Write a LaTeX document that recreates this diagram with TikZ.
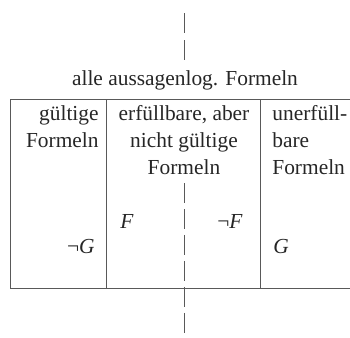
\documentclass[tikz,border=0pt]{standalone}
\usepackage{fontspec}
\setmainfont{Liberation Serif}
\usepackage{tikz}
\usetikzlibrary{positioning}

\begin{document}
\begin{tikzpicture}[
    x=0.5pt, y=-0.5pt,
    rule/.style={draw=black!65, line width=0.5pt},
    cut/.style={draw=black!65, line width=0.5pt},
    txt/.style={inner sep=0pt, text=black!85, font=\fontsize{10.7}{13.5}\selectfont}
]
    \useasboundingbox (0,0) rectangle (350,338);

    % Überschrift
    \node[txt, anchor=base] (title) at (185,85) {alle aussagenlog. Formeln};

    % Tabelle: Rahmen (rechts offen)
    \coordinate (tl) at (11,99);
    \coordinate (tr) at (350,99);
    \coordinate (bl) at (11,289);
    \coordinate (br) at (350,289);
    \draw[rule] (tr) -- (tl) -- (bl) -- (br);

    % Spaltentrenner
    \coordinate (s1top) at (107,99);
    \coordinate (s1bot) at (107,289);
    \coordinate (s2top) at (261,99);
    \coordinate (s2bot) at (261,289);
    \draw[rule] (s1top) -- (s1bot);
    \draw[rule] (s2top) -- (s2bot);

    % Spaltenköpfe
    \node[txt, anchor=north east, align=right] (valid) at (99,105.5) {gültige\\Formeln};
    \node[txt, anchor=north, align=center] (sat) at (184,105.5) {erfüllbare, aber\\nicht gültige\\Formeln};
    \node[txt, anchor=north west, align=left] (unsat) at (272,105.5) {unerfüll-\\bare\\Formeln};

    % Formeln
    \node[txt, anchor=base west] (f) at (120,228) {\textit{F}};
    \node[txt, anchor=base east] (nf) at (243,228) {¬\textit{F}};
    \node[txt, anchor=base east] (ng) at (95,254) {¬\textit{G}};
    \node[txt, anchor=base west] (g) at (273,254) {\textit{G}};

    % Spiegelachse
    \coordinate (axtop) at (185,13);
    \coordinate (axmid) at (185,62);
    \coordinate (axin) at (185,183);
    \coordinate (axbot) at (185,338);
    \draw[cut, dash pattern=on 10pt off 3.5pt] (axtop) -- (axmid);
    \draw[cut, dash pattern=on 10pt off 3pt] (axin) -- (axbot);
\end{tikzpicture}
\end{document}
